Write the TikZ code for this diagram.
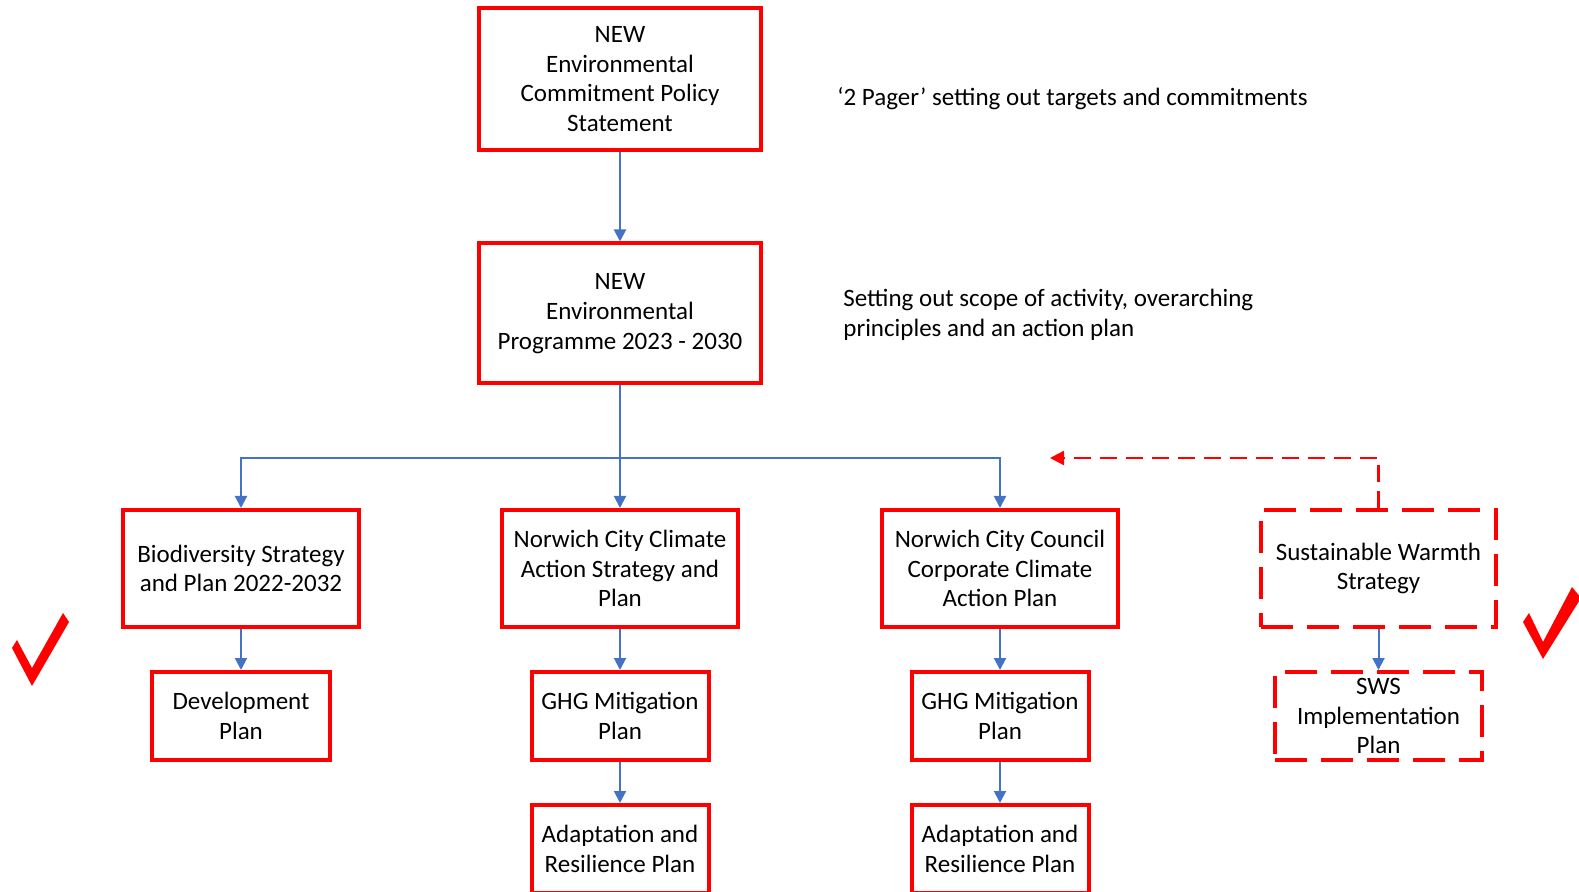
\documentclass[tikz,border=0pt]{standalone}
\usepackage{fontspec}
\setmainfont{Carlito}
\usetikzlibrary{arrows.meta}
\definecolor{boxred}{RGB}{255,0,0}
\definecolor{linkblue}{RGB}{68,114,196}

\begin{document}
\begin{tikzpicture}[x=0.5pt,y=-0.5pt,
  box/.style={draw=boxred,line width=2pt,align=center,inner sep=0pt,font=\fontsize{12.5}{14.85}\selectfont},
  dashbox/.style={box,dash pattern=on 16pt off 7pt},
  link/.style={draw=linkblue,line width=1pt,-{Triangle[length=6pt,width=6pt]}},
  back/.style={draw=boxred,line width=1.2pt,dash pattern=on 8.5pt off 4.5pt,-{Triangle[length=7pt,width=7pt]}},
  note/.style={align=left,inner sep=0pt,font=\fontsize{12.5}{14.85}\selectfont},
  tick/.style={fill=boxred,draw=none}]
\useasboundingbox (0,0) rectangle (1579,892);

% top of the tree
\node[box,minimum width=141pt,minimum height=71pt] (stmt) at (620,79) {NEW\\Environmental\\Commitment Policy\\Statement};
\node[box,minimum width=141pt,minimum height=70pt] (prog) at (620,313.5) {NEW\\Environmental\\Programme 2023 - 2030};
\node[note,anchor=base west] (note1) at (837,106) {‘2 Pager’ setting out targets and commitments};
\node[note,anchor=west] (note2) at (843,315) {Setting out scope of activity, overarching\\principles and an action plan};

% strategies
\node[box,minimum width=118pt,minimum height=58.5pt] (bio) at (241,568.5) {Biodiversity Strategy\\and Plan 2022-2032};
\node[box,minimum width=118pt,minimum height=58.5pt] (ncc) at (620,568.5) {Norwich City Climate\\Action Strategy and\\Plan};
\node[box,minimum width=118pt,minimum height=58.5pt] (council) at (1000,568.5) {Norwich City Council\\Corporate Climate\\Action Plan};
\node[dashbox,minimum width=117.5pt,minimum height=58.5pt] (sws) at (1378.5,568.5) {Sustainable Warmth\\Strategy};

% plans
\node[box,minimum width=89pt,minimum height=44pt] (dev) at (241,716) {Development\\Plan};
\node[box,minimum width=88.5pt,minimum height=44pt] (ghg1) at (620,716) {GHG Mitigation\\Plan};
\node[box,minimum width=88.5pt,minimum height=44pt] (ghg2) at (1000,716) {GHG Mitigation\\Plan};
\node[dashbox,minimum width=103.5pt,minimum height=44pt] (swsplan) at (1378.5,716) {SWS\\Implementation\\Plan};
\node[box,minimum width=88.5pt,minimum height=44pt] (adapt1) at (620,849) {Adaptation and\\Resilience Plan};
\node[box,minimum width=88.5pt,minimum height=44pt] (adapt2) at (1000,849) {Adaptation and\\Resilience Plan};

% connectors
\coordinate (bus) at (620,458);
\coordinate (ret) at (1050,458);
\draw[link] (stmt) -- (prog);
\draw[link] (prog) -- (ncc);
\draw[link] (bus) -| (bio);
\draw[link] (bus) -| (council);
\draw[link] (bio) -- (dev);
\draw[link] (ncc) -- (ghg1);
\draw[link] (ghg1) -- (adapt1);
\draw[link] (council) -- (ghg2);
\draw[link] (ghg2) -- (adapt2);
\draw[link] (sws) -- (swsplan);
\draw[back] (sws) |- (ret);

% ticks
\fill[tick] (12,648) -- (17,640) -- (32,668) -- (63,613) -- (69,622) -- (32,686) -- cycle;
\fill[tick] (1523,622) -- (1529,613) -- (1543,642) -- (1572,587) -- (1581,598) -- (1543,659) -- cycle;
\end{tikzpicture}
\end{document}
